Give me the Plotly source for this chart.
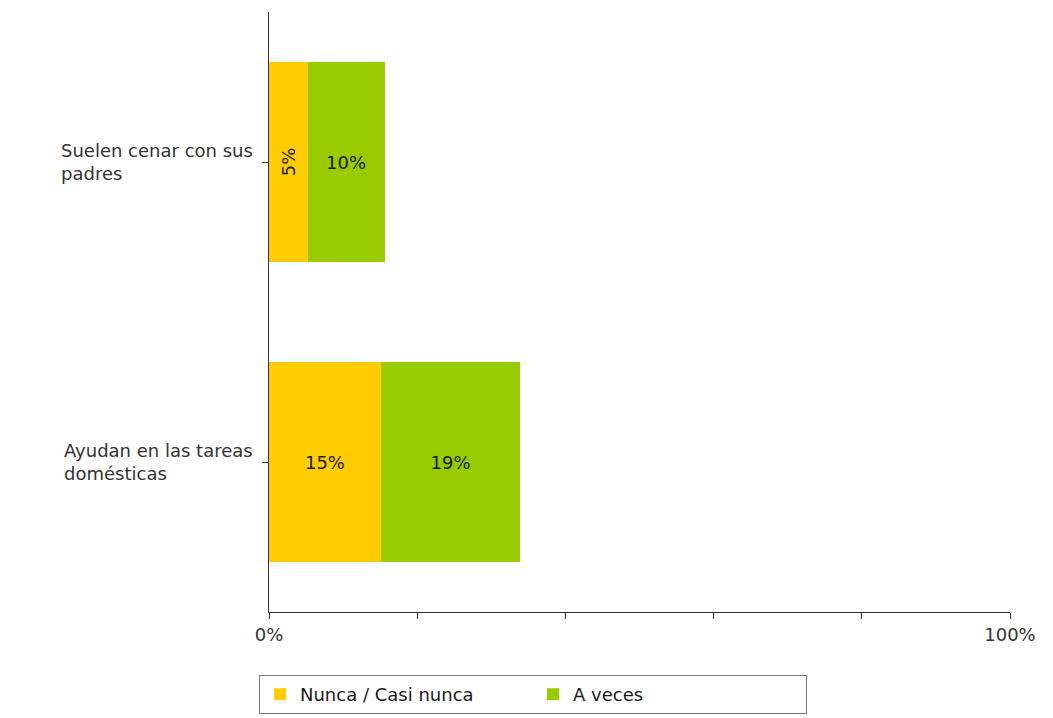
import plotly.graph_objects as go

categories = ["Ayudan en las tareas domésticas", "Suelen cenar con sus padres"]
category_labels = ["Ayudan en las tareas<br>domésticas", "Suelen cenar con sus<br>padres"]
series_names = ["Nunca / Casi nunca", "A veces"]
series_colors = ["#FFCC00", "#99CC00"]
nunca = [15.1, 5.2]
a_veces = [18.8, 10.4]
x_tickvals = [0, 20, 40, 60, 80, 100]
x_ticktext = ["0%", "", "", "", "", "100%"]

FONT = "DejaVu Sans, Verdana, sans-serif"
TXT = "#1a1a1a"
FS = 18
NARROW = 8  # bars narrower than this (in %) get vertical labels

fig = go.Figure()
for name, vals, color in zip(series_names, [nunca, a_veces], series_colors):
    wide = [v if v >= NARROW else None for v in vals]
    narrow = [v if v < NARROW else None for v in vals]
    for part, angle, show in [(wide, 0, True), (narrow, -90, False)]:
        if not show and all(p is None for p in part):
            continue
        fig.add_trace(go.Bar(
            y=categories, x=part, name=name, orientation="h",
            legendgroup=name, showlegend=show,
            marker=dict(color=color, line=dict(width=0)),
            text=[f"{v:.0f}%" if v is not None else "" for v in part],
            textposition="inside", insidetextanchor="middle",
            textangle=angle, constraintext="none",
            textfont=dict(family=FONT, size=FS, color=TXT),
            hoverinfo="skip",
        ))

for cat, lab in zip(categories, category_labels):
    fig.add_annotation(
        x=0, xref="paper", xshift=-14, y=cat, yref="y",
        text=lab, showarrow=False, xanchor="right", yanchor="middle",
        align="left", font=dict(family=FONT, size=FS, color="#333333"),
    )

fig.update_layout(
    barmode="stack",
    bargap=1/3,
    width=1053, height=718,
    margin=dict(l=261, r=51, t=4, b=114, autoexpand=False),
    paper_bgcolor="white", plot_bgcolor="white",
    font=dict(family=FONT, size=FS, color=TXT),
    showlegend=True,
    legend=dict(
        orientation="h", x=-0.0135, xanchor="left", y=-0.105, yanchor="top",
        bordercolor="#777777", borderwidth=1, bgcolor="white",
        font=dict(family=FONT, size=FS, color=TXT),
        traceorder="normal", entrywidth=228,
    ),
    xaxis=dict(
        range=[0, 100], tickvals=x_tickvals, ticktext=x_ticktext,
        showgrid=False, zeroline=False, showline=True, linecolor="#333333", linewidth=1,
        ticks="outside", ticklen=6, tickcolor="#333333",
        tickfont=dict(family=FONT, size=FS, color="#333333"),
        fixedrange=True,
    ),
    yaxis=dict(
        categoryorder="array", categoryarray=categories, range=[-0.5, 1.5],
        showgrid=False, zeroline=False, showline=True, linecolor="#333333", linewidth=1,
        ticks="outside", ticklen=6, tickcolor="#333333", showticklabels=False,
        fixedrange=True,
    ),
)

fig.write_html("out.html")
